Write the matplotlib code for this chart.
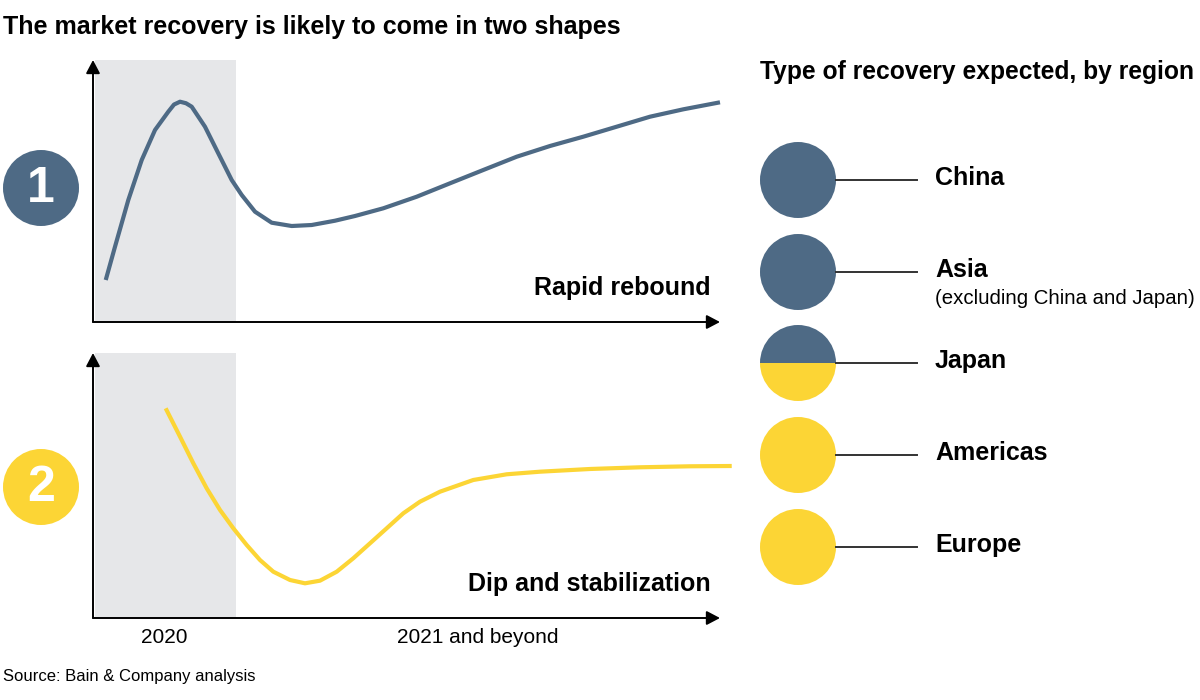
import matplotlib
matplotlib.use("Agg")
import matplotlib.pyplot as plt
from matplotlib.patches import Circle, Wedge, Rectangle

plt.rcParams['font.family'] = ['Liberation Sans', 'DejaVu Sans']

# ---- data ----
title = "The market recovery is likely to come in two shapes"
legend_title = "Type of recovery expected, by region"
source = "Source: Bain & Company analysis"
period_labels = ["2020", "2021 and beyond"]
shape_names = ["Rapid rebound", "Dip and stabilization"]

# curve 1: rapid rebound (index units, x 0-100, y 0-100)
rebound_x = [2.03, 3.51, 5.63, 7.77, 9.89, 12.01, 12.92, 13.88, 14.83, 15.74, 17.86, 19.98,
             22.12, 23.72, 25.84, 28.50, 31.69, 34.88, 38.60, 41.79, 46.30, 51.63, 56.94,
             62.25, 67.58, 72.89, 78.20, 83.52, 88.84, 94.15, 100.0]
rebound_y = [16.03, 28.74, 46.56, 61.83, 73.28, 80.27, 83.0, 84.08, 83.5, 82.18, 74.54, 64.39,
             54.20, 48.47, 42.10, 37.90, 36.64, 37.02, 38.66, 40.46, 43.40, 47.82, 52.94,
             58.02, 63.09, 67.18, 70.73, 74.54, 78.36, 81.18, 83.85]

# curve 2: dip and stabilization
dip_x = [11.59, 13.88, 16.00, 18.13, 20.26, 22.38, 24.51, 26.63, 28.76, 31.42, 33.81, 36.20,
         38.87, 41.51, 44.18, 46.84, 49.49, 52.15, 55.34, 60.65, 65.98, 71.29, 79.27,
         87.24, 95.22, 101.87]
dip_y = [79.13, 68.42, 58.38, 48.94, 40.75, 33.85, 27.55, 21.89, 17.47, 14.34, 13.09, 14.08,
         17.47, 22.53, 28.19, 33.85, 39.51, 43.89, 47.66, 52.08, 54.23, 55.21, 56.23,
         56.87, 57.25, 57.36]

shade_end = 22.8  # end of 2020 period on x index

regions = ["China", "Asia", "Japan", "Americas", "Europe"]
rebound_share = [1.0, 1.0, 0.5, 0.0, 0.0]
region_notes = ["", "(excluding China and Japan)", "", "", ""]

BLUE = "#4E6A85"
YELLOW = "#FCD535"
SHADE = "#E6E7E9"
W, H = 1200, 700

fig = plt.figure(figsize=(12, 7), dpi=100)
fig.patch.set_facecolor("white")

# overlay axes in pixel coords for annotation elements
ov = fig.add_axes([0, 0, 1, 1])
ov.set_xlim(0, W)
ov.set_ylim(H, 0)
ov.axis("off")

ARROW = "-|>,head_length=0.8,head_width=0.42"


def panel(left, top, right, bottom, x, y, color, label):
    ax = fig.add_axes([left / W, (H - bottom) / H, (right - left) / W, (bottom - top) / H])
    ax.set_xlim(0, 100)
    ax.set_ylim(0, 100)
    ax.axis("off")
    ax.add_patch(Rectangle((0.3, 0), shade_end - 0.3, 100, facecolor=SHADE, edgecolor="none", zorder=0))
    ax.plot(x, y, color=color, lw=3.0, solid_capstyle="butt", solid_joinstyle="round",
            clip_on=False, zorder=3)
    ax.annotate("", xy=(0, 100), xytext=(0, 0), annotation_clip=False,
                arrowprops=dict(arrowstyle=ARROW, color="black",
                                lw=1.4, shrinkA=0, shrinkB=0), zorder=4)
    ax.annotate("", xy=(100, 0), xytext=(0, 0), annotation_clip=False,
                arrowprops=dict(arrowstyle=ARROW, color="black",
                                lw=1.4, shrinkA=0, shrinkB=0), zorder=4)
    ax.text(98.5, 13, label, ha="right", va="center", fontsize=18, fontweight="bold", color="black")
    return ax


ax1 = panel(93, 60, 720, 322, rebound_x, rebound_y, BLUE, shape_names[0])
ax2 = panel(93, 353, 720, 618, dip_x, dip_y, YELLOW, shape_names[1])

# period labels under bottom axis
ax2.text(11.4, -7.5, period_labels[0], ha="center", va="center", fontsize=15, clip_on=False)
ax2.text(61.4, -7.5, period_labels[1], ha="center", va="center", fontsize=15, clip_on=False)

# number circles
for cy, col, num in [(188, BLUE, "1"), (487, YELLOW, "2")]:
    ov.add_patch(Circle((41, cy), 38, facecolor=col, edgecolor="none"))
    ov.text(41, cy + 1, num, ha="center", va="center", color="white", fontsize=36, fontweight="bold")

# titles
ov.text(3, 27, title, ha="left", va="center", fontsize=18, fontweight="bold")
ov.text(760, 72, legend_title, ha="left", va="center", fontsize=17.7, fontweight="bold")
ov.text(3, 677, source, ha="left", va="center", fontsize=12)

# region circles
ys = [180, 272, 363, 455, 547]
cx, r = 798, 38
for name, share, note, cy in zip(regions, rebound_share, region_notes, ys):
    if share >= 1:
        ov.add_patch(Circle((cx, cy), r, facecolor=BLUE, edgecolor="none"))
    elif share <= 0:
        ov.add_patch(Circle((cx, cy), r, facecolor=YELLOW, edgecolor="none"))
    else:
        ov.add_patch(Wedge((cx, cy), r, 180, 360, facecolor=BLUE, edgecolor="none"))
        ov.add_patch(Wedge((cx, cy), r, 0, 180, facecolor=YELLOW, edgecolor="none"))
    ov.plot([cx + r, 917], [cy, cy], color="#333333", lw=1.4)
    ov.text(935, cy - 2, name, ha="left", va="center", fontsize=18, fontweight="bold")
    if note:
        ov.text(935, cy + 26, note, ha="left", va="center", fontsize=14.7)

fig.savefig("out.png", dpi=100, facecolor="white")
